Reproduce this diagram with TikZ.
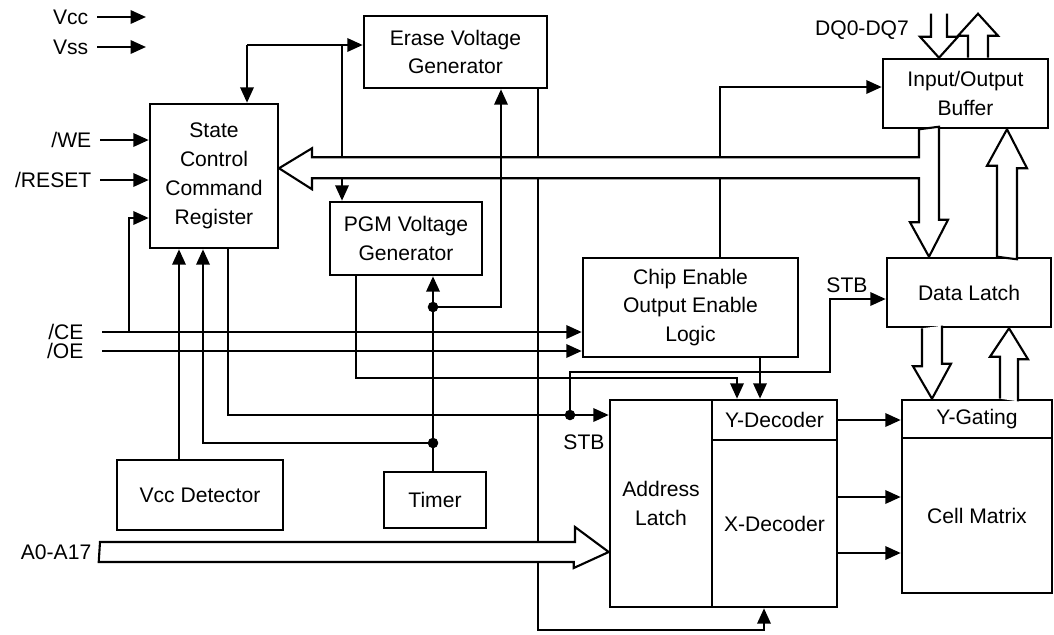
\documentclass[tikz,border=0pt]{standalone}
\usepackage{fontspec}
\setmainfont{Liberation Sans}
\usetikzlibrary{arrows.meta}

\tikzset{
  blk/.style 2 args={draw, line width=1.8pt, minimum width=#1*0.025cm,
    minimum height=#2*0.025cm, inner sep=0pt, align=center},
  wire/.style={line width=1.7pt},
  arr/.style={wire, -{Triangle[length=11pt,width=9.5pt]}},
  bus/.style={draw, fill=white, line width=1.5pt, line join=miter},
  sig/.style={anchor=east, inner xsep=6pt, inner ysep=0pt},
  dot/.style={circle, fill, inner sep=0pt, minimum size=7.5pt},
}

\begin{document}
\begin{tikzpicture}[x=0.025cm, y=-0.025cm, font=\fontsize{15pt}{20.5pt}\selectfont]
  \useasboundingbox (0,0) rectangle (1054,634);

  % blocks
  \node[blk={128}{144}] (sccr) at (214,176) {State\\Control\\Command\\Register};
  \node[blk={183}{72}] (erase) at (455.5,52) {Erase Voltage\\Generator};
  \node[blk={152}{73}] (pgm) at (406,238.5) {PGM Voltage\\Generator};
  \node[blk={165}{69}] (iobuf) at (965.5,93.5) {Input/Output\\Buffer};
  \node[blk={215}{99}] (celog) at (690.5,307.5) {Chip Enable\\Output Enable\\Logic};
  \node[blk={164}{69}] (dlatch) at (969,292.5) {Data Latch};
  \node[blk={102}{207}] (alatch) at (661,503.5) {Address\\Latch};
  \node[blk={125}{40}] (ydec) at (774.5,420) {Y-Decoder};
  \node[blk={125}{167}] (xdec) at (774.5,523.5) {X-Decoder};
  \node[blk={150}{38}] (ygate) at (977,419) {Y-Gating};
  \node[blk={150}{155}] (cells) at (977,515.5) {Cell Matrix};
  \node[blk={166}{70}] (vccdet) at (200,495) {Vcc Detector};
  \node[blk={102}{56}] (timer) at (435,500) {Timer};

  % pins
  \node[sig] (vcc) at (97,17) {Vcc};
  \node[sig] (vss) at (97,47) {Vss};
  \node[sig] (we) at (100,140) {/WE};
  \node[sig] (rst) at (100,180) {/RESET};
  \node[sig, inner xsep=13pt] (ce) at (102,332) {/CE};
  \node[sig, inner xsep=13pt] (oe) at (102,351) {/OE};
  \node[sig] (addr) at (100,552) {A0-A17};
  \node (dq) at (862,30) {DQ0-DQ7};
  \node (stba) at (584,442) {STB};
  \node (stbd) at (847,285) {STB};
  \coordinate (vccE) at (146,17);
  \coordinate (vssE) at (146,47);

  \draw[arr] (vcc.east) -- (vccE);
  \draw[arr] (vss.east) -- (vssE);
  \draw[arr] (we.east) -- (we.east -| sccr.west);
  \draw[arr] (rst.east) -- (rst.east -| sccr.west);
  \draw[arr] (ce.east) -- (ce.east -| celog.west);
  \draw[arr] (oe.east) -- (oe.east -| celog.west);

  % /CE back into the register
  \coordinate (ceTap) at (129,332);
  \coordinate (ceIn) at (129,218);
  \draw[arr] (ceTap) -- (ceIn) -- (ceIn -| sccr.west);

  % top feed
  \coordinate (topL) at (247,45);
  \coordinate (topM) at (342,45);
  \draw[arr] (topL) -- (sccr.north -| topL);
  \draw[arr] (topL) -- (topL -| erase.west);
  \draw[arr] (topM) -- (pgm.north -| topM);

  % detector and timer
  \coordinate (vdCol) at (179,0);
  \draw[arr] (vccdet.north -| vdCol) -- (sccr.south -| vdCol);
  \node[dot] (tmA) at (433,443) {};
  \node[dot] (tmB) at (433,307) {};
  \coordinate (tmS) at (203,443);
  \coordinate (tmE) at (501,307);
  \draw[arr] (timer.north -| tmA) -- (pgm.south -| tmA);
  \draw[arr] (tmA.center) -- (tmS) -- (sccr.south -| tmS);

  % strobe
  \coordinate (stS) at (228,415);
  \node[dot] (stbDot) at (570,415) {};
  \coordinate (dsA) at (570,372);
  \coordinate (dsB) at (830,372);
  \coordinate (dsC) at (830,299);
  \draw[arr] (sccr.south -| stS) -- (stS) -- (stS -| alatch.west);
  \draw[arr] (stbDot.center) -- (dsA) -- (dsB) -- (dsC) -- (dsC -| dlatch.west);

  % PGM out
  \coordinate (poA) at (356,378);
  \coordinate (poB) at (737,378);
  \draw[arr] (pgm.south -| poA) -- (poA) -- (poB) -- (ydec.north -| poB);

  % erase out
  \coordinate (eoA) at (538,630);
  \coordinate (eoB) at (764,630);
  \draw[arr] (erase.south -| eoA) -- (eoA) -- (eoB) -- (xdec.south -| eoB);

  % chip enable logic
  \coordinate (coA) at (720,87);
  \coordinate (coB) at (760,0);
  \draw[arr] (celog.north -| coA) -- (coA) -- (coA -| iobuf.west);
  \draw[arr] (celog.south -| coB) -- (ydec.north -| coB);

  % decoders to array
  \coordinate (xr1) at (0,497);
  \coordinate (xr2) at (0,553);
  \draw[arr] (ydec.east) -- (ydec.east -| ygate.west);
  \draw[arr] (xdec.east |- xr1) -- (cells.west |- xr1);
  \draw[arr] (xdec.east |- xr2) -- (cells.west |- xr2);

  % buses
  \coordinate (ioDn) at (929,0);
  \coordinate (ioUp) at (1007,0);
  \coordinate (dqIn) at (939,0);
  \coordinate (dqOut) at (978,0);
  \coordinate (dlDn) at (932,0);
  \coordinate (dlUp) at (1009,0);
  \draw[bus] (addr.east) ++(0,-10) -- ++(475,0) -- ++(0,-15)
    -- (addr.east -| alatch.west) -- ++(-35,16) -- ++(0,-6) -- ++(-475,0) -- cycle;
  \draw[bus] (iobuf.south -| ioDn) ++(-10,0) -- ++(0,28) -- ++(-607,0) -- ++(0,-9)
    -- ++(-33,20) -- ++(33,21) -- ++(0,-11) -- ++(607,0) -- ++(0,44) -- ++(-9,0)
    -- (dlatch.north -| ioDn) -- ++(19,-37) -- ++(-9,0) -- ++(0,-93) -- cycle;
  \draw[bus] (dlatch.north -| ioUp) ++(-10,0) -- ++(0,-91) -- ++(-10,0)
    -- (iobuf.south -| ioUp) -- ++(20,39) -- ++(-10,0) -- ++(0,91) -- cycle;
  \draw[bus] (iobuf.north -| dqIn) ++(-8,-44) -- ++(0,23) -- ++(-11,0)
    -- (iobuf.north -| dqIn) -- ++(19,-21) -- ++(-11,0) -- ++(0,-23);
  \draw[bus] (iobuf.north -| dqOut) ++(-10,0) -- ++(0,-22) -- ++(-10,0)
    -- ++(20,-22) -- ++(20,22) -- ++(-10,0) -- ++(0,22);
  \draw[bus] (dlatch.south -| dlDn) ++(-10,0) -- ++(0,38) -- ++(-9,0)
    -- (ygate.north -| dlDn) -- ++(19,-35) -- ++(-9,0) -- ++(0,-38);
  \draw[bus] (ygate.north -| dlUp) ++(-9,0) -- ++(0,-42) -- ++(-10,0)
    -- (dlatch.south -| dlUp) -- ++(19,31) -- ++(-10,0) -- ++(0,42);

  % timer to erase runs over the bus
  \draw[arr] (tmB.center) -- (tmE) -- (erase.south -| tmE);
\end{tikzpicture}
\end{document}
